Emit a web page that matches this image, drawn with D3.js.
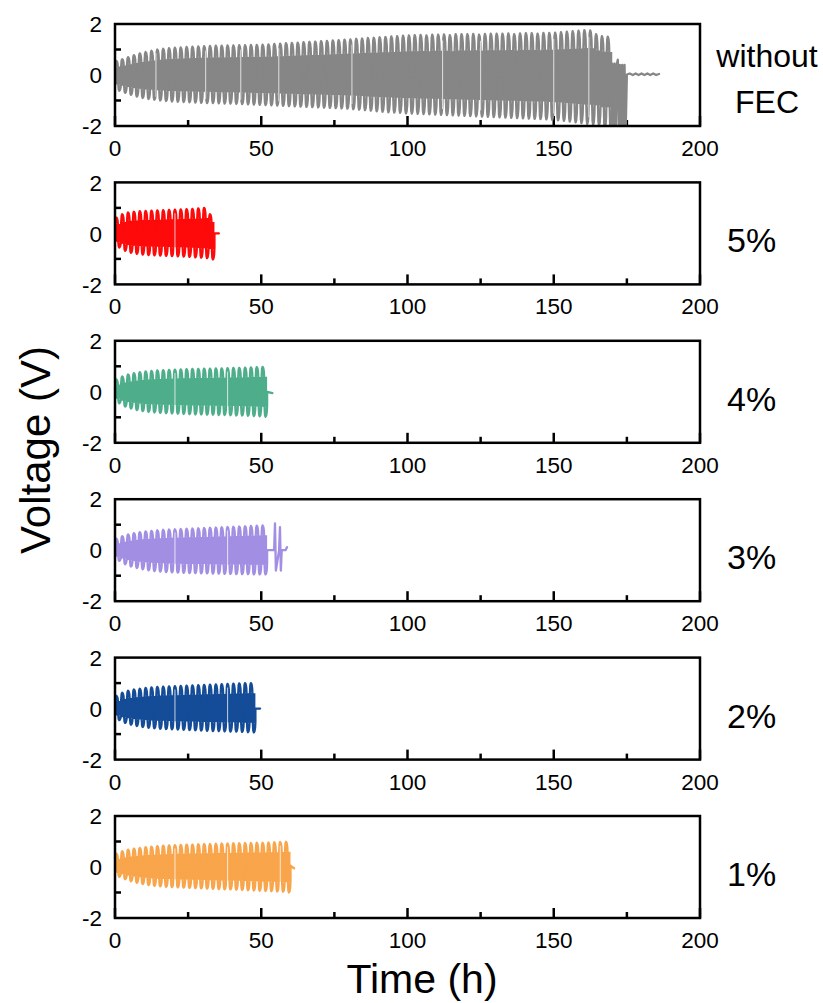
<!DOCTYPE html>
<html>
<head>
<meta charset="utf-8">
<script src="https://cdn.jsdelivr.net/npm/d3@7"></script>
<style>
  body { margin: 0; background: #fff; }
  svg text { font-family: "Liberation Sans", Arial, Helvetica, sans-serif; fill: #000; }
</style>
</head>
<body>
<div id="chart"></div>
<script>

// one cycle = 1 h plating + 1 h stripping
var cycleHours = 2;

var panelNames = ["without FEC", "5%", "4%", "3%", "2%", "1%"];
var panelColors = ["#868686", "#fd0a0a", "#4eae8b", "#a28fe3", "#144c98", "#f8a54b"];

// peak voltage of each cycle (V)
var grayHi = [0.55, 0.62, 0.70, 0.78, 0.85, 0.90, 0.95, 1.00, 1.03, 1.05,
  1.07, 1.08, 1.10, 1.11, 1.12, 1.13, 1.14, 1.15, 1.15, 1.16,
  1.16, 1.17, 1.17, 1.18, 1.18, 1.19, 1.20, 1.22, 1.23, 1.25,
  1.26, 1.27, 1.29, 1.30, 1.31, 1.33, 1.34, 1.36, 1.37, 1.39,
  1.40, 1.42, 1.43, 1.45, 1.46, 1.48, 1.49, 1.51, 1.52, 1.54,
  1.55, 1.56, 1.57, 1.55, 1.58, 1.58, 1.59, 1.56, 1.60, 1.60,
  1.60, 1.61, 1.58, 1.61, 1.62, 1.62, 1.62, 1.63, 1.60, 1.63,
  1.64, 1.64, 1.62, 1.65, 1.65, 1.66, 1.68, 1.70, 1.72, 1.74,
  1.76, 1.75, 1.60, 1.52, 1.50];
var grayLo = [-0.62, -0.70, -0.78, -0.85, -0.90, -0.94, -0.97, -1.00, -1.02, -1.04,
  -1.05, -1.06, -1.07, -1.08, -1.09, -1.10, -1.10, -1.11, -1.12, -1.12,
  -1.13, -1.14, -1.15, -1.16, -1.17, -1.18, -1.19, -1.20, -1.21, -1.22,
  -1.23, -1.24, -1.25, -1.26, -1.27, -1.28, -1.29, -1.30, -1.31, -1.32,
  -1.34, -1.36, -1.38, -1.40, -1.42, -1.44, -1.46, -1.47, -1.48, -1.50,
  -1.51, -1.52, -1.53, -1.54, -1.55, -1.56, -1.57, -1.58, -1.59, -1.60,
  -1.61, -1.62, -1.63, -1.64, -1.65, -1.66, -1.67, -1.68, -1.69, -1.70,
  -1.71, -1.72, -1.73, -1.74, -1.76, -1.78, -1.80, -1.83, -1.86, -1.89,
  -1.92, -1.95, -1.98, -2.10, -2.10];
// short-circuit and open end of the FEC-free cell
var grayTailT = [170, 170.4, 170.8, 171.2, 171.6, 171.9, 172.2, 172.6, 173.0, 173.4, 173.8, 174.2, 174.6,
  175.0, 176.0, 177.0, 178.0, 179.0, 180.0, 181.0, 182.0, 183.0, 184.0, 185.0, 186.0];
var grayTailV = [0.45, -2.2, 0.45, -2.2, 0.45, 0.60, -2.2, 0.40, -2.2, 0.40, -2.2, 0.40, -2.2,
  0.02, 0.06, 0.0, 0.06, 0.0, 0.06, 0.0, 0.06, 0.0, 0.06, 0.0, 0.04];
var grayGaps = [14, 31, 43, 56, 81, 112, 125, 150, 162];

var redHi = [0.62, 0.75, 0.82, 0.85, 0.87, 0.88, 0.89, 0.90, 0.91, 0.92, 0.93, 0.94, 0.95, 0.96, 0.98, 1.00, 0.75];
var redLo = [-0.55, -0.68, -0.76, -0.80, -0.83, -0.85, -0.86, -0.87, -0.88, -0.89, -0.90, -0.91, -0.92, -0.94, -0.95, -0.97, -1.02];
var redTailT = [34, 35.5];
var redTailV = [0.0, 0.0];
var redGaps = [20.5];

var greenHi = [0.48, 0.60, 0.68, 0.73, 0.77, 0.80, 0.82, 0.84, 0.85, 0.86, 0.87, 0.88, 0.89,
  0.90, 0.90, 0.91, 0.91, 0.92, 0.92, 0.93, 0.94, 0.94, 0.95, 0.96, 0.97, 0.98];
var greenLo = [-0.45, -0.58, -0.66, -0.72, -0.76, -0.79, -0.81, -0.83, -0.84, -0.85, -0.86, -0.87, -0.88,
  -0.89, -0.89, -0.90, -0.90, -0.91, -0.91, -0.92, -0.93, -0.93, -0.94, -0.95, -0.96, -0.98];
var greenTailT = [52, 53.8];
var greenTailV = [0.0, -0.05];
var greenGaps = [20.5, 38.5];

var purpleHi = [0.45, 0.55, 0.62, 0.67, 0.71, 0.74, 0.76, 0.78, 0.80, 0.81, 0.82, 0.83, 0.84,
  0.85, 0.86, 0.87, 0.88, 0.89, 0.90, 0.91, 0.92, 0.93, 0.94, 0.95, 0.96, 0.97];
var purpleLo = [-0.42, -0.55, -0.64, -0.70, -0.75, -0.79, -0.82, -0.84, -0.86, -0.87, -0.88, -0.89, -0.90,
  -0.90, -0.91, -0.91, -0.92, -0.92, -0.93, -0.93, -0.94, -0.94, -0.94, -0.95, -0.95, -0.95];
var purpleTailT = [52, 54.4, 54.7, 55.0, 56.1, 56.4, 56.7, 57.0, 58.3, 58.8];
var purpleTailV = [0.0, 0.0, 1.05, -0.80, 0.0, 0.90, -0.80, 0.0, 0.0, 0.12];
var purpleGaps = [20.5, 38.5];

var blueHi = [0.50, 0.62, 0.70, 0.75, 0.78, 0.81, 0.83, 0.85, 0.86, 0.87, 0.88, 0.89,
  0.90, 0.91, 0.92, 0.93, 0.94, 0.95, 0.96, 0.97, 0.98, 0.99, 1.00, 1.00];
var blueLo = [-0.45, -0.56, -0.63, -0.68, -0.72, -0.75, -0.77, -0.79, -0.80, -0.81, -0.82, -0.83,
  -0.84, -0.85, -0.86, -0.87, -0.88, -0.88, -0.89, -0.90, -0.90, -0.91, -0.92, -0.93];
var blueTailT = [48, 49.6];
var blueTailV = [0.0, 0.0];
var blueGaps = [20.5, 38.5];

var orangeHi = [0.52, 0.62, 0.68, 0.72, 0.75, 0.78, 0.80, 0.82, 0.84, 0.85,
  0.86, 0.87, 0.88, 0.88, 0.89, 0.90, 0.90, 0.91, 0.92, 0.92,
  0.93, 0.93, 0.94, 0.94, 0.95, 0.95, 0.96, 0.97, 0.98, 0.99];
var orangeLo = [-0.38, -0.48, -0.56, -0.62, -0.67, -0.71, -0.74, -0.76, -0.78, -0.79,
  -0.80, -0.81, -0.82, -0.83, -0.84, -0.85, -0.86, -0.87, -0.88, -0.88,
  -0.89, -0.90, -0.91, -0.92, -0.93, -0.94, -0.95, -0.96, -0.97, -1.00];
var orangeTailT = [60, 61.2];
var orangeTailV = [0.05, -0.05];
var orangeGaps = [20.5, 38.5, 56.5];

var xTicks = [0, 50, 100, 150, 200];
var xMinorTicks = [25, 75, 125, 175];
var yTicks = [-2, 0, 2];
var yMinorTicks = [-1, 1];

var panels = [
  { hi: grayHi, lo: grayLo, tailT: grayTailT, tailV: grayTailV, gaps: grayGaps },
  { hi: redHi, lo: redLo, tailT: redTailT, tailV: redTailV, gaps: redGaps },
  { hi: greenHi, lo: greenLo, tailT: greenTailT, tailV: greenTailV, gaps: greenGaps },
  { hi: purpleHi, lo: purpleLo, tailT: purpleTailT, tailV: purpleTailV, gaps: purpleGaps },
  { hi: blueHi, lo: blueLo, tailT: blueTailT, tailV: blueTailV, gaps: blueGaps },
  { hi: orangeHi, lo: orangeLo, tailT: orangeTailT, tailV: orangeTailV, gaps: orangeGaps }
];

var svgWidth = 823;
var svgHeight = 1003;

var left = 115, right = 700;
var firstTop = 24, pitch = 158.4, panelH = 102;

var svg = d3.select("#chart")
  .append("svg")
  .attr("width", svgWidth)
  .attr("height", svgHeight);

var x = d3.scaleLinear().domain([0, 200]).range([left, right]);

// shape of one charge/discharge cycle: [fraction of cycle, fraction of peak, which peak]
var cycleShape = [
  [0.00, 0.55, "lo"], [0.05, 0.55, "hi"], [0.13, 0.92, "hi"], [0.23, 1.0, "hi"],
  [0.35, 0.95, "hi"], [0.45, 0.80, "hi"], [0.50, 0.55, "hi"],
  [0.55, 0.55, "lo"], [0.63, 0.92, "lo"], [0.73, 1.0, "lo"],
  [0.85, 0.95, "lo"], [0.95, 0.80, "lo"]
];

panels.forEach(function(p, i) {

  var top = firstTop + i * pitch;
  var y = d3.scaleLinear().domain([-2, 2]).range([top + panelH, top]);
  var g = svg.append("g");

  g.append("clipPath")
    .attr("id", "clip" + i)
    .append("rect")
    .attr("x", left)
    .attr("y", top)
    .attr("width", right - left)
    .attr("height", panelH);

  // x ticks, inward
  g.selectAll(".xmaj")
    .data(xTicks)
    .enter()
    .append("line")
    .attr("x1", d => x(d)).attr("x2", d => x(d))
    .attr("y1", top + panelH).attr("y2", top + panelH - 10)
    .attr("stroke", "#000").attr("stroke-width", 2.5);

  g.selectAll(".xmin")
    .data(xMinorTicks)
    .enter()
    .append("line")
    .attr("x1", d => x(d)).attr("x2", d => x(d))
    .attr("y1", top + panelH).attr("y2", top + panelH - 6)
    .attr("stroke", "#000").attr("stroke-width", 2.5);

  g.selectAll(".ymin")
    .data(yMinorTicks)
    .enter()
    .append("line")
    .attr("x1", left).attr("x2", left + 6)
    .attr("y1", d => y(d)).attr("y2", d => y(d))
    .attr("stroke", "#000").attr("stroke-width", 2.5);

  g.selectAll(".ymaj")
    .data([0])
    .enter()
    .append("line")
    .attr("x1", left).attr("x2", left + 10)
    .attr("y1", d => y(d)).attr("y2", d => y(d))
    .attr("stroke", "#000").attr("stroke-width", 2.5);

  // build the voltage trace from the per-cycle peaks
  var pts = [];
  p.hi.forEach(function(h, k) {
    var t0 = k * cycleHours;
    cycleShape.forEach(function(s) {
      var peak = s[2] === "hi" ? h : p.lo[k];
      pts.push([t0 + s[0] * cycleHours, peak * s[1]]);
    });
  });
  var nEnd = p.hi.length * cycleHours;
  pts.push([nEnd, p.lo[p.lo.length - 1] * 0.55]);
  p.tailT.forEach(function(t, j) { pts.push([t, p.tailV[j]]); });

  var data = g.append("g").attr("clip-path", "url(#clip" + i + ")");

  // solid body of the band
  var body = p.hi.map(function(h, k) { return [k * cycleHours, h * 0.6, p.lo[k] * 0.6]; });
  body.push([nEnd, body[body.length - 1][1], body[body.length - 1][2]]);
  data.append("path")
    .datum(body)
    .attr("fill", panelColors[i])
    .attr("d", d3.area()
      .curve(d3.curveStepAfter)
      .x(d => x(d[0]))
      .y0(d => y(d[2]))
      .y1(d => y(d[1])));

  data.append("path")
    .datum(pts)
    .attr("fill", "none")
    .attr("stroke", panelColors[i])
    .attr("stroke-width", 2.3)
    .attr("stroke-linejoin", "round")
    .attr("stroke-linecap", "round")
    .attr("d", d3.line().x(d => x(d[0])).y(d => y(d[1])));

  // thin white rest gaps
  data.selectAll(".gap")
    .data(p.gaps)
    .enter()
    .append("line")
    .attr("x1", d => x(d)).attr("x2", d => x(d))
    .attr("y1", d => y(p.hi[Math.floor(d / cycleHours)] * 0.85))
    .attr("y2", d => y(p.lo[Math.floor(d / cycleHours)] * 0.85))
    .attr("stroke", "#fff")
    .attr("stroke-opacity", 0.75)
    .attr("stroke-width", 1);

  // frame
  g.append("rect")
    .attr("x", left)
    .attr("y", top)
    .attr("width", right - left)
    .attr("height", panelH)
    .attr("fill", "none")
    .attr("stroke", "#000")
    .attr("stroke-width", 2.5);

  g.selectAll(".xlab")
    .data(xTicks)
    .enter()
    .append("text")
    .attr("x", d => x(d))
    .attr("y", top + panelH + 30)
    .attr("text-anchor", "middle")
    .style("font-size", "22.5px")
    .text(d => d);

  g.selectAll(".ylab")
    .data(yTicks)
    .enter()
    .append("text")
    .attr("x", 102)
    .attr("y", d => y(d))
    .attr("dy", "0.36em")
    .attr("text-anchor", "end")
    .style("font-size", "22.5px")
    .text(d => d);

  if (i === 0) {
    var lab = g.append("text")
      .attr("text-anchor", "middle")
      .style("font-size", "32px");
    lab.append("tspan").attr("x", 767).attr("y", top + 43).text("without");
    lab.append("tspan").attr("x", 767).attr("y", top + 89).text("FEC");
  } else {
    g.append("text")
      .attr("x", 727)
      .attr("y", top + 70)
      .style("font-size", "34px")
      .text(panelNames[i]);
  }
});

svg.append("text")
  .attr("transform", "translate(50, 450) rotate(-90)")
  .attr("text-anchor", "middle")
  .style("font-size", "42px")
  .text("Voltage (V)");

svg.append("text")
  .attr("x", 422)
  .attr("y", 993)
  .attr("text-anchor", "middle")
  .style("font-size", "41px")
  .text("Time (h)");

</script>
</body>
</html>
